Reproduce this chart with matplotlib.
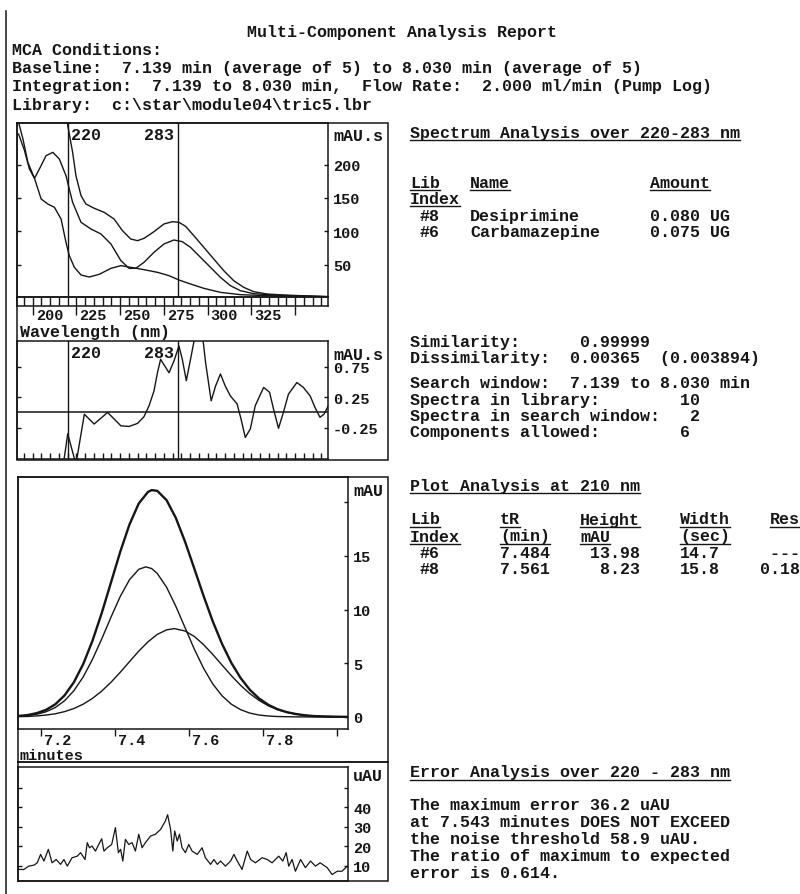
"""
Multi-Component Analysis report page: spectra, residual spectrum,
chromatogram deconvolution and fit error, with the text summary on the right.
"""

import numpy as np
import matplotlib
matplotlib.use('Agg')
import matplotlib.pyplot as plt
from matplotlib.transforms import offset_copy

plt.rcParams['font.family'] = ['Liberation Mono', 'DejaVu Sans Mono']
plt.rcParams['font.size'] = 12
plt.rcParams['font.weight'] = 'bold'
plt.rcParams['axes.unicode_minus'] = False

INK = '#161616'
W, H = 800, 895
CW = 10       # width of one mono character in pixels (12 pt at 100 dpi)
COL0 = 410    # left edge of the text column on the right
TICK_FS = 11

# ---- spectra over the peak (mAU.s vs nm) ----
mix_nm = [218.6, 220.9, 222.8, 224.7, 227.6, 230.4, 235.2, 240.8, 246.5, 251.3,
          256.0, 259.9, 263.6, 269.3, 275.0, 279.8, 283.6, 287.4, 292.1, 297.8,
          303.5, 309.2, 314.9, 320.6, 326.3, 333.9, 343.3, 352.9, 369.0]
mix_spec = [280, 246, 218.5, 183.5, 153.5, 141, 134.5, 128.5, 118.5, 101,
            88.5, 86, 89.5, 99.5, 111, 114.5, 113.5, 107.5, 93.5, 76,
            58.5, 41, 26, 16, 9.5, 6, 4.5, 3.5, 2]

carb_nm = [191.9, 194.4, 197.2, 201.0, 203.8, 207.6, 211.5, 215.2, 219.0, 222.8,
           227.6, 233.3, 239.0, 244.7, 250.4, 255.1, 258.9, 263.6, 269.3, 275.0,
           280.7, 285.5, 290.2, 295.9, 301.6, 307.3, 313.0, 318.7, 326.3, 337.7,
           352.9, 369.0]
carb_spec = [263.5, 238.5, 203.5, 179.5, 193.5, 213.5, 218.5, 208.5, 183.5, 143.5,
             113.5, 103.5, 96, 81, 56, 44.5, 44.5, 53.5, 68.5, 81,
             87, 84.5, 76, 61, 46, 31, 18.5, 11, 6.5, 4.5,
             3, 2]

desip_nm = [191.9, 195.3, 198.1, 201.0, 204.8, 208.6, 212.4, 216.2, 219.0, 220.9,
            223.8, 227.6, 232.3, 238.0, 244.7, 250.4, 256.0, 263.6, 271.3, 277.9,
            283.6, 290.2, 297.8, 307.3, 318.7, 333.9, 352.9, 369.0]
desip_spec = [246, 221, 193.5, 179.5, 148.5, 141, 136, 118.5, 83.5, 63.5,
              46, 34.5, 31.5, 35.5, 44.5, 48.5, 46, 42.5, 38.5, 33.5,
              27, 21, 14.5, 8.5, 5, 3.5, 2.5, 2]

# ---- residual spectrum (mAU.s) ----
resid_nm = [217.5, 220.0, 224.7, 229.5, 235.1, 242.8, 250.4, 255.1, 259.9, 263.6,
            266.5, 269.3, 271.3, 273.1, 277.9, 280.7, 283.6, 285.5, 287.8, 290.2,
            293.1, 296.9, 298.8, 302.0, 304.5, 307.3, 310.1, 313.0, 316.8, 319.1,
            321.5, 324.4, 327.2, 332.0, 335.4, 337.7, 340.5, 343.3, 346.2, 351.0,
            354.7, 358.6, 361.4, 364.2, 366.5, 369.0]
resid = [-0.85, -0.35, -0.85, -0.03, -0.19, 0.0, -0.22, -0.23, -0.18, -0.07,
         0.11, 0.35, 0.65, 0.87, 0.65, 0.84, 1.09, 0.87, 0.52, 0.87,
         1.30, 1.30, 0.82, 0.19, 0.43, 0.63, 0.43, 0.27, 0.14, -0.11,
         -0.41, -0.27, 0.11, 0.41, 0.33, 0.05, -0.26, 0.0, 0.30, 0.49,
         0.41, 0.27, 0.08, -0.08, -0.03, 0.11]

window_nm = [220, 283]

# ---- chromatogram at 210 nm (mAU vs min) ----
mix_t = [7.139, 7.165, 7.19, 7.215, 7.24, 7.265, 7.29, 7.315, 7.34, 7.365,
         7.39, 7.415, 7.44, 7.465, 7.49, 7.50, 7.515, 7.54, 7.565, 7.59,
         7.615, 7.64, 7.665, 7.69, 7.715, 7.74, 7.765, 7.79, 7.815, 7.84,
         7.865, 7.89, 7.915, 7.94, 7.965, 7.99, 8.03]
mix_mau = [0.09, 0.18, 0.36, 0.67, 1.19, 2.02, 3.24, 4.92, 7.09, 9.67,
           12.52, 15.38, 17.93, 19.88, 20.96, 21.13, 21.06, 20.20, 18.55, 16.33,
           13.82, 11.28, 8.89, 6.80, 5.04, 3.63, 2.53, 1.72, 1.13, 0.72,
           0.45, 0.27, 0.15, 0.08, 0.05, 0.03, 0.01]

carb_t = [7.139, 7.165, 7.19, 7.215, 7.24, 7.265, 7.29, 7.315, 7.34, 7.365,
          7.39, 7.415, 7.44, 7.465, 7.484, 7.50, 7.515, 7.54, 7.565, 7.59,
          7.615, 7.64, 7.665, 7.69, 7.715, 7.74, 7.765, 7.79, 7.815, 7.84,
          7.89, 7.94, 8.03]
carb_mau = [0.06, 0.13, 0.26, 0.49, 0.89, 1.52, 2.45, 3.73, 5.36, 7.26,
            9.29, 11.22, 12.78, 13.75, 13.98, 13.82, 13.37, 12.09, 10.32, 8.32,
            6.32, 4.54, 3.07, 1.97, 1.19, 0.68, 0.36, 0.18, 0.09, 0.04,
            0.01, 0.0, 0.0]

desip_t = [7.139, 7.165, 7.19, 7.215, 7.24, 7.265, 7.29, 7.315, 7.34, 7.365,
           7.39, 7.415, 7.44, 7.465, 7.49, 7.515, 7.54, 7.561, 7.59, 7.615,
           7.64, 7.665, 7.69, 7.715, 7.74, 7.765, 7.79, 7.815, 7.84, 7.865,
           7.89, 7.915, 7.94, 7.965, 7.99, 8.03]
desip_mau = [0.03, 0.05, 0.10, 0.18, 0.30, 0.50, 0.79, 1.19, 1.73, 2.41,
             3.23, 4.16, 5.15, 6.13, 7.00, 7.69, 8.11, 8.23, 8.01, 7.50,
             6.74, 5.82, 4.83, 3.85, 2.95, 2.17, 1.54, 1.04, 0.68, 0.43,
             0.26, 0.15, 0.08, 0.05, 0.03, 0.01]

# ---- fit error over the peak (uAU vs min) ----
err_t = [7.137, 7.141, 7.155, 7.168, 7.182, 7.191, 7.200, 7.209, 7.221, 7.231,
         7.242, 7.254, 7.263, 7.272, 7.285, 7.299, 7.308, 7.320, 7.326, 7.332,
         7.339, 7.348, 7.357, 7.365, 7.371, 7.380, 7.392, 7.402, 7.410, 7.416,
         7.422, 7.429, 7.438, 7.447, 7.456, 7.465, 7.474, 7.483, 7.497, 7.510,
         7.524, 7.537, 7.543, 7.551, 7.557, 7.562, 7.569, 7.575, 7.582, 7.591,
         7.600, 7.609, 7.623, 7.636, 7.645, 7.659, 7.668, 7.677, 7.686, 7.699,
         7.713, 7.722, 7.731, 7.744, 7.758, 7.767, 7.780, 7.798, 7.812, 7.825,
         7.843, 7.854, 7.863, 7.870, 7.879, 7.888, 7.902, 7.915, 7.929, 7.942,
         7.955, 7.974, 7.987, 8.001, 8.014, 8.028]
err_uau = [9.9, 8.2, 8.2, 9.9, 10.4, 11.6, 15.9, 12.5, 18.5, 11.6,
           13.3, 10.8, 13.3, 9.9, 14.2, 15.0, 16.8, 13.3, 21.9, 19.3,
           20.2, 17.6, 21.0, 23.9, 17.6, 19.3, 21.0, 29.6, 16.8, 18.5,
           12.5, 23.6, 21.0, 21.9, 17.6, 26.2, 19.3, 21.9, 25.3, 26.2,
           28.7, 33.0, 36.2, 28.7, 17.6, 27.9, 22.7, 26.2, 19.3, 16.8,
           21.0, 17.6, 15.9, 19.3, 14.2, 10.8, 13.3, 10.8, 12.5, 9.9,
           12.5, 15.9, 12.5, 8.2, 17.6, 13.3, 11.6, 14.2, 13.3, 11.6,
           15.0, 12.5, 16.8, 9.9, 13.3, 7.3, 13.3, 9.1, 12.5, 9.9,
           11.6, 9.1, 5.6, 7.3, 7.3, 9.9]

# ---- axis ticks ----
wl_major = [200, 225, 250, 275, 300, 325, 350]
wl_major_labels = ['200', '225', '250', '275', '300', '325', '']
spec_ticks = [50, 100, 150, 200]
resid_ticks = [-0.25, 0.25, 0.75]
resid_tick_labels = ['-0.25', '0.25', '0.75']
t_major = [7.2, 7.4, 7.6, 7.8, 8.0]
t_major_labels = ['7.2', '7.4', '7.6', '7.8', '']
mau_ticks = [0, 5, 10, 15, 20]
mau_tick_labels = ['0', '5', '10', '15', '']
uau_ticks = [10, 20, 30, 40, 50]
uau_tick_labels = ['10', '20', '30', '40', '']

# ---- report tables ----
spec_lib = ['#8', '#6']
spec_names = ['Desiprimine', 'Carbamazepine']
spec_amounts = ['0.080 UG', '0.075 UG']

peak_lib = ['#6', '#8']
peak_tr = [7.484, 7.561]
peak_height = [13.98, 8.23]
peak_width = [14.7, 15.8]
peak_res = ['---', '0.18']

WL_LIM = (191.0, 368.8)
T_LIM = (7.139, 8.030)

fig = plt.figure(figsize=(W / 100, H / 100), dpi=100)
page = fig.add_axes([0, 0, 1, 1])
page.set_xlim(0, W)
page.set_ylim(H, 0)
page.axis('off')


def put(x, y, s, ul=False, **kw):
    # y is the middle of the text line in page pixels
    page.text(x, y + 4.5, s, color=INK, va='baseline', **kw)
    if ul:
        page.plot([x, x + CW * len(s)], [y + 8, y + 8], color=INK, lw=1)


def col(c, y, s, ul=False):
    put(COL0 + c * CW, y, s, ul)


def frame(pts):
    xs, ys = zip(*pts)
    page.plot(xs, ys, color=INK, lw=1.1, solid_joinstyle='miter')


def panel(x0, y0, x1, y1):
    ax = fig.add_axes([x0 / W, 1 - y1 / H, (x1 - x0) / W, (y1 - y0) / H])
    ax.set_facecolor('none')
    for sp in ax.spines.values():
        sp.set_color(INK)
        sp.set_linewidth(1.1)
    ax.tick_params(colors=INK, width=1, labelsize=TICK_FS)
    return ax


def xlabel_at(ax, x, s, dx, dy, ha='left', yref=0, size=TICK_FS):
    tr = offset_copy(ax.get_xaxis_transform(), fig=fig, x=dx, y=dy, units='dots')
    ax.text(x, yref, s, transform=tr, ha=ha, va='baseline', color=INK, fontsize=size)


# page edge and outer boxes
page.plot([6, 6], [12, H], color=INK, lw=1.1)
frame([(17, 124), (388, 124), (388, 461), (17, 461), (17, 124)])
frame([(18, 478), (388, 478), (388, 763), (18, 763), (18, 478)])
frame([(18, 763), (388, 763), (388, 882), (18, 882), (18, 763)])

# header
put(402, 32, 'Multi-Component Analysis Report', ha='center')
put(12, 50, 'MCA Conditions:')
put(12, 68, 'Baseline:  7.139 min (average of 5) to 8.030 min (average of 5)')
put(12, 86, 'Integration:  7.139 to 8.030 min,  Flow Rate:  2.000 ml/min (Pump Log)')
put(12, 105, 'Library:  c:\\star\\module04\\tric5.lbr')

# spectra
ax1 = panel(17, 124, 328, 298)
ax1.plot(mix_nm, mix_spec, color=INK, lw=1)
ax1.plot(carb_nm, carb_spec, color=INK, lw=1)
ax1.plot(desip_nm, desip_spec, color=INK, lw=1)
for w in window_nm:
    ax1.axvline(w, color=INK, lw=1)
ax1.set_xlim(*WL_LIM)
ax1.set_ylim(1.5, 262.5)
ax1.set_xticks([])
ax1.set_yticks(spec_ticks)
ax1.set_yticklabels([str(v) for v in spec_ticks])
ax1.tick_params(axis='y', left=True, right=True, labelleft=False, labelright=True,
                direction='in', length=3, pad=3.6)
xlabel_at(ax1, window_nm[0], str(window_nm[0]), 3, -16.5, yref=1, size=12)
xlabel_at(ax1, window_nm[1], str(window_nm[1]), -4, -16.5, ha='right', yref=1, size=12)
put(333, 136, 'mAU.s')

# wavelength ruler under the spectra
strip = panel(17, 298, 328, 307)
strip.set_xlim(*WL_LIM)
strip.set_ylim(0, 1)
strip.vlines(np.arange(195, 366, 5), 0, 1, color=INK, lw=1)
strip.set_yticks([])
strip.set_xticks(wl_major)
strip.tick_params(axis='x', direction='out', length=6.5, labelbottom=False)
for v, lab in zip(wl_major, wl_major_labels):
    xlabel_at(strip, v, lab, 3, -13.5)
put(20, 332, 'Wavelength (nm)')

# residual spectrum
ax2 = panel(17, 342, 328, 460)
ax2.plot(resid_nm, resid, color=INK, lw=1)
ax2.axhline(0, color=INK, lw=1.1)
for w in window_nm:
    ax2.axvline(w, color=INK, lw=1)
ax2.set_xlim(*WL_LIM)
ax2.set_ylim(-0.763, 1.17)
ax2.set_xticks(np.arange(195, 366, 5))
ax2.tick_params(axis='x', direction='in', length=4.5, labelbottom=False)
ax2.set_yticks(resid_ticks)
ax2.set_yticklabels(resid_tick_labels)
ax2.tick_params(axis='y', left=True, right=True, labelleft=False, labelright=True,
                direction='in', length=3, pad=3.6)
xlabel_at(ax2, window_nm[0], str(window_nm[0]), 3, -15.5, yref=1, size=12)
xlabel_at(ax2, window_nm[1], str(window_nm[1]), -4, -15.5, ha='right', yref=1, size=12)
put(333, 355, 'mAU.s')

# chromatogram and its two components
ax3 = panel(18, 478, 348, 730)
ax3.plot(mix_t, mix_mau, color=INK, lw=1.7)
ax3.plot(carb_t, carb_mau, color=INK, lw=1)
ax3.plot(desip_t, desip_mau, color=INK, lw=1)
ax3.set_xlim(*T_LIM)
ax3.set_ylim(-1.12, 22.35)
ax3.set_xticks(t_major)
ax3.tick_params(axis='x', direction='out', length=5, labelbottom=False)
for v, lab in zip(t_major, t_major_labels):
    xlabel_at(ax3, v, lab, 3, -15)
ax3.set_yticks(mau_ticks)
ax3.set_yticklabels(mau_tick_labels)
ax3.tick_params(axis='y', left=False, right=True, labelleft=False, labelright=True,
                direction='in', length=3, pad=3.6)
put(353, 492, 'mAU')
page.text(20, 760.5, 'minutes', color=INK, va='baseline', fontsize=TICK_FS)

# fit error
ax4 = panel(18, 768, 348, 882)
ax4.plot(err_t, err_uau, color=INK, lw=0.9)
ax4.set_xlim(*T_LIM)
ax4.set_ylim(2.3, 60.6)
ax4.set_xticks([])
ax4.set_yticks(uau_ticks)
ax4.set_yticklabels(uau_tick_labels)
ax4.tick_params(axis='y', left=True, right=True, labelleft=False, labelright=True,
                direction='in', length=3, pad=3.6)
put(353, 777, 'uAU')

# spectrum analysis summary
col(0, 133, 'Spectrum Analysis over 220-283 nm', ul=True)
col(0, 183, 'Lib', ul=True)
col(6, 183, 'Name', ul=True)
col(24, 183, 'Amount', ul=True)
col(0, 199, 'Index', ul=True)
for i, (lib, name, amt) in enumerate(zip(spec_lib, spec_names, spec_amounts)):
    y = 216 + 16 * i
    col(1, y, lib)
    col(6, y, name)
    col(24, y, amt)

col(0, 342, 'Similarity:      0.99999')
col(0, 358, 'Dissimilarity:  0.00365  (0.003894)')
col(0, 384, 'Search window:  7.139 to 8.030 min')
col(0, 401, 'Spectra in library:        10')
col(0, 417, 'Spectra in search window:   2')
col(0, 433, 'Components allowed:        6')

# plot analysis table
col(0, 486, 'Plot Analysis at 210 nm', ul=True)
for c, s in [(0, 'Lib'), (9, 'tR'), (17, 'Height'), (27, 'Width'), (36, 'Res')]:
    col(c, 520, s, ul=True)
for c, s in [(0, 'Index'), (9, '(min)'), (17, 'mAU'), (27, '(sec)')]:
    col(c, 537, s, ul=True)
for i in range(len(peak_lib)):
    y = 554 + 16 * i
    col(1, y, peak_lib[i])
    col(9, y, f'{peak_tr[i]:.3f}')
    col(17, y, f'{peak_height[i]:6.2f}')
    col(27, y, f'{peak_width[i]:.1f}')
    col(35, y, f'{peak_res[i]:>4}')

# error analysis
col(0, 773, 'Error Analysis over 220 - 283 nm', ul=True)
for i, s in enumerate(['The maximum error 36.2 uAU',
                       'at 7.543 minutes DOES NOT EXCEED',
                       'the noise threshold 58.9 uAU.',
                       'The ratio of maximum to expected',
                       'error is 0.614.']):
    col(0, 806 + 16.8 * i, s)

fig.savefig('out.png', dpi=100)
